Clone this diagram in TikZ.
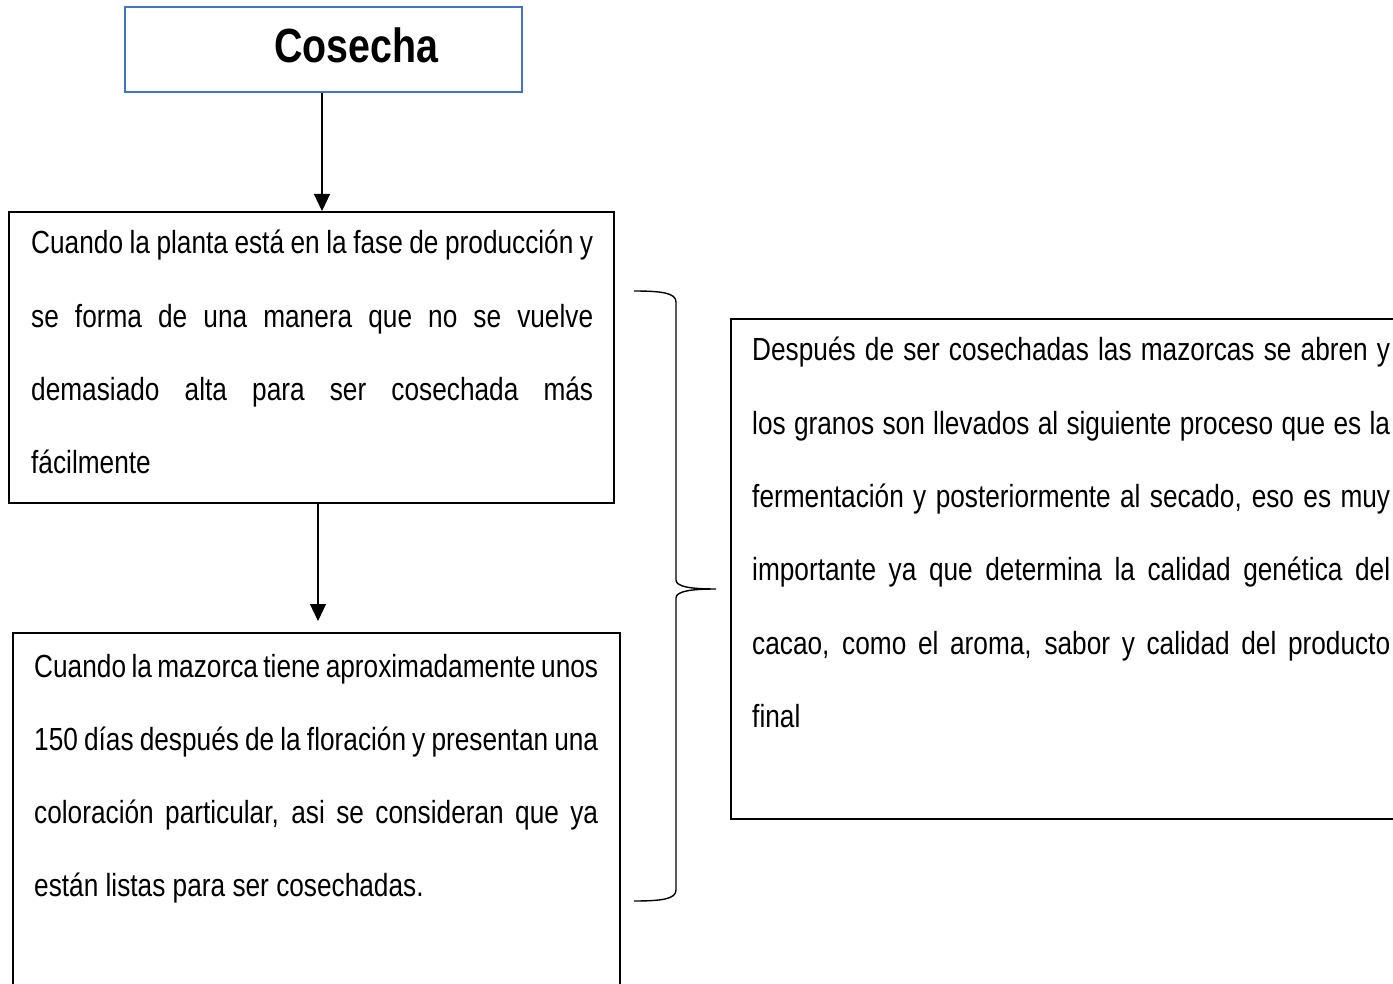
\documentclass[tikz,border=0pt]{standalone}
\usepackage{fontspec}
\newfontfamily\nf[FakeStretch=0.82]{Liberation Sans}
\usetikzlibrary{arrows.meta}
\definecolor{boxblue}{RGB}{68,114,196}
\newcommand{\jline}[1]{\hbox to\hsize{#1}}
\newcommand{\lastline}[1]{\hbox to\hsize{#1\hfil}}
\tikzset{
  framebox/.style={draw=black, line width=2pt, inner sep=0pt},
  titlebox/.style={draw=boxblue, line width=2pt, inner sep=0pt},
  bodytext/.style={inner sep=0pt, anchor=base west, font=\nf\fontsize{32pt}{73.3pt}\selectfont},
  conn/.style={line width=1.2pt, -{Triangle[length=17pt,width=16pt]}},
}
\begin{document}
\begin{tikzpicture}[x=1pt,y=-1pt]
\useasboundingbox (0,0) rectangle (1393,984);
% boxes
\node[titlebox, minimum width=397pt, minimum height=85pt] (title) at (323.5,49.5) {};
\node[inner sep=0pt, anchor=base, font=\nf\bfseries\fontsize{48pt}{56pt}\selectfont] (titletext) at (356.5,63) {Cosecha};
\node[framebox, minimum width=605pt, minimum height=291pt] (box1) at (311.5,357.5) {};
\node[framebox, minimum width=607pt, minimum height=370pt] (box2) at (316.5,818) {};
\node[framebox, minimum width=680pt, minimum height=500pt] (box3) at (1071,569) {};
% texts
\node[bodytext] (t1) at (31,254) {\parbox[t]{562pt}{\baselineskip=73.3pt
\jline{Cuando la planta está en la fase de producción y}
\jline{se forma de una manera que no se vuelve}
\jline{demasiado alta para ser cosechada más}
\lastline{fácilmente}}};
\node[bodytext] (t2) at (34,677) {\parbox[t]{564pt}{\baselineskip=73.3pt
\jline{Cuando la mazorca tiene aproximadamente unos}
\jline{150 días después de la floración y presentan una}
\jline{coloración particular, asi se consideran que ya}
\lastline{están listas para ser cosechadas.}}};
\node[bodytext] (t3) at (752,361) {\parbox[t]{638pt}{\baselineskip=73.3pt
\jline{Después de ser cosechadas las mazorcas se abren y}
\jline{los granos son llevados al siguiente proceso que es la}
\jline{fermentación y posteriormente al secado, eso es muy}
\jline{importante ya que determina la calidad genética del}
\jline{cacao, como el aroma, sabor y calidad del producto}
\lastline{final}}};
% connectors
\draw[conn] ([xshift=-1.5pt]title.south) -- ([xshift=-1.5pt]title.south |- box1.north);
\coordinate (a2) at ([xshift=6.5pt]box1.south);
\draw[conn, shorten >=11pt] (a2) -- (a2 |- box2.north);
% brace
\coordinate (bracetip) at (716,589);
\draw[line width=1.4pt] (634,291) .. controls (662,291) and (676,293) .. (676,302)
  -- (676,580) .. controls (676,587) and (692,589) .. (bracetip)
  .. controls (692,589) and (676,591) .. (676,598)
  -- (676,890) .. controls (676,899) and (662,901) .. (634,901);
\end{tikzpicture}
\end{document}
